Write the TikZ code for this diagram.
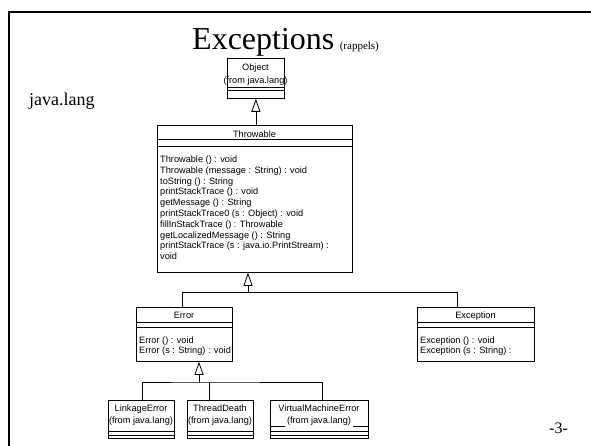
\documentclass[tikz,border=0pt]{standalone}
\usepackage{fontspec}
\setmainfont{Liberation Serif}
\newfontfamily\umlfont{Liberation Sans}
\usetikzlibrary{arrows.meta}
\begin{document}
\begin{tikzpicture}[x=1pt,y=-1pt,
  cls/.style={draw, line width=0.8pt, inner sep=0pt, anchor=north west},
  sepline/.style={line width=0.8pt},
  txt/.style={font=\umlfont\fontsize{9.2}{10.8}\selectfont, inner sep=0pt},
  conn/.style={line width=0.8pt},
  inh/.style={conn, -{Triangle[open, length=13pt, width=9pt]}}
]
\useasboundingbox (0,0) rectangle (591,446);
\fill[white] (0,0) rectangle (591,446);
\draw[line width=2.2pt] (9,446) -- (9,12) -- (591,12);

% titles
\node[anchor=base west, inner sep=0pt, font=\fontsize{32}{36}\selectfont] (title) at (192,50) {Exceptions};
\node[anchor=base west, inner sep=0pt, font=\fontsize{11}{13}\selectfont] (rap) at ([xshift=5pt]title.base east) {(rappels)};
\node[anchor=base west, inner sep=0pt, font=\fontsize{18}{20}\selectfont] (pkg) at (29,106) {java.lang};
\node[anchor=base west, inner sep=0pt, font=\fontsize{16}{18}\selectfont] (pg) at (549,433) {-3-};

% Object
\node[cls, minimum width=57pt, minimum height=40pt] (obj) at (227,58) {};
\draw[sepline] (227,87) -- (284,87) (227,90) -- (284,90);
\node[txt, anchor=base] (objn) at (255.5,70.4) {Object};
\node[txt, anchor=base] (objf) at (255.5,84) {(from java.lang)};

% Throwable
\node[cls, minimum width=195pt, minimum height=147pt] (thr) at (157,125) {};
\draw[sepline] (157,139) -- (352,139) (157,146) -- (352,146);
\node[txt, anchor=base] (thrn) at (254.5,137.4) {Throwable};
\foreach \t [count=\i] in {{Throwable () : void},{Throwable (message : String) : void},{toString () : String},{printStackTrace () : void},{getMessage () : String},{printStackTrace0 (s : Object) : void},{fillInStackTrace () : Throwable},{getLocalizedMessage () : String},{printStackTrace (s : java.io.PrintStream) :},{void}}
  \node[txt, anchor=base west] (thrm\i) at (160,162.5+10.8*\i-10.8) {\t};

% Error
\node[cls, minimum width=96pt, minimum height=54pt] (err) at (136,307) {};
\draw[sepline] (136,322) -- (232,322) (136,327) -- (232,327);
\node[txt, anchor=base] (errn) at (184,318.4) {Error};
\node[txt, anchor=base west] (errm1) at (139,343) {Error () : void};
\node[txt, anchor=base west] (errm2) at (139,353.5) {Error (s : String) : void};

% Exception
\node[cls, minimum width=117pt, minimum height=54pt] (exc) at (417,307) {};
\draw[sepline] (417,322) -- (534,322) (417,327) -- (534,327);
\node[txt, anchor=base] (excn) at (475.5,318.4) {Exception};
\node[txt, anchor=base west] (excm1) at (420,343) {Exception () : void};
\node[txt, anchor=base west] (excm2) at (420,353.5) {Exception (s : String) :};

% small classes
\node[cls, minimum width=66pt, minimum height=38pt] (lnk) at (108,400) {};
\draw[sepline] (108,431) -- (174,431) (108,435) -- (174,435);
\node[txt, anchor=base] (lnkn) at (141,411.4) {LinkageError};
\node[txt, anchor=base] (lnkf) at (141,423.5) {(from java.lang)};

\node[cls, minimum width=66pt, minimum height=38pt] (thd) at (187,400) {};
\draw[sepline] (187,431) -- (253,431) (187,435) -- (253,435);
\node[txt, anchor=base] (thdn) at (220,411.4) {ThreadDeath};
\node[txt, anchor=base] (thdf) at (220,423.5) {(from java.lang)};

\node[cls, minimum width=98pt, minimum height=38pt] (vme) at (270,400) {};
\draw[sepline] (270,431) -- (368,431) (270,435) -- (368,435);
\node[txt, anchor=base] (vmen) at (319,411.4) {VirtualMachineError};
\node[txt, anchor=base] (vmef) at (319,423.5) {(from java.lang)};
\draw[line width=0.6pt] (270,426) -- (285,426) (353,426) -- (368,426);

% connectors
\draw[inh] (obj.south |- thr.north) -- (obj.south);

\coordinate (j1) at (248,292.5);
\draw[inh] (j1) -- (j1 |- thr.south);
\draw[conn] ([xshift=-2pt]err.north) |- (j1) -| ([xshift=-18.5pt]exc.north);

\coordinate (j2) at (199,382);
\draw[inh] (j2) -- (j2 |- err.south);
\draw[conn] ([xshift=1pt]lnk.north) |- (j2) -| ([xshift=3pt]vme.north);
\path ([xshift=-11pt]thd.north) coordinate (tdn);
\draw[conn] (tdn) -- (tdn |- j2);
\end{tikzpicture}
\end{document}
